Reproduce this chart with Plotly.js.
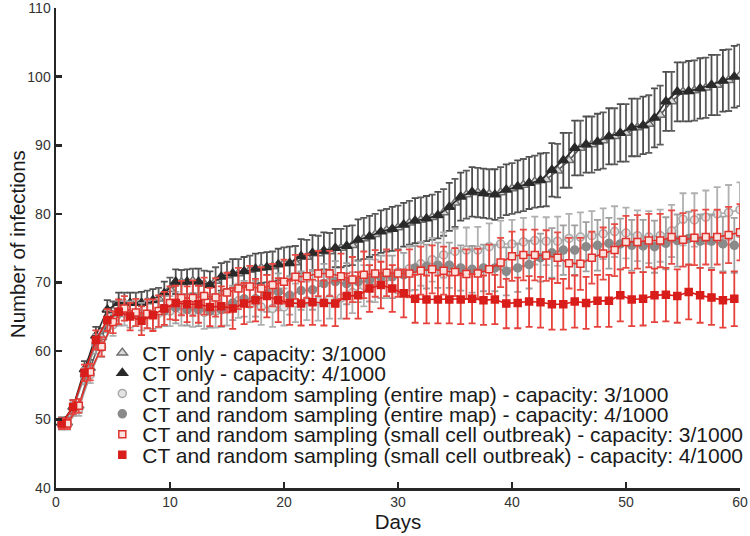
<!DOCTYPE html>
<html>
<head>
<meta charset="utf-8">
<script src="https://cdn.plot.ly/plotly-3.0.1.min.js"></script>
<style>html,body{margin:0;padding:0;background:#fff;}#chart{width:750px;height:536px;}</style>
</head>
<body>
<div id="chart"></div>
<script>
// Days: 3/1000 series sampled on whole days, 4/1000 series on half days
const days3 = [1,2,3,4,5,6,7,8,9,10,11,12,13,14,15,16,17,18,19,20,21,22,23,24,25,26,27,28,29,30,31,32,33,34,35,36,37,38,39,40,41,42,43,44,45,46,47,48,49,50,51,52,53,54,55,56,57,58,59,60];
const days4 = [0.5,1.5,2.5,3.5,4.5,5.5,6.5,7.5,8.5,9.5,10.5,11.5,12.5,13.5,14.5,15.5,16.5,17.5,18.5,19.5,20.5,21.5,22.5,23.5,24.5,25.5,26.5,27.5,28.5,29.5,30.5,31.5,32.5,33.5,34.5,35.5,36.5,37.5,38.5,39.5,40.5,41.5,42.5,43.5,44.5,45.5,46.5,47.5,48.5,49.5,50.5,51.5,52.5,53.5,54.5,55.5,56.5,57.5,58.5,59.5];

// CT only
const ctOnly3 = [49.5,52.0,57.5,62.0,65.8,67.0,67.0,67.2,67.6,69.0,70.0,70.2,69.8,70.2,71.0,71.3,71.8,72.1,72.3,72.8,72.9,73.7,74.2,74.5,75.0,75.4,76.4,77.0,77.6,78.0,78.7,79.1,79.5,80.2,81.6,82.8,83.1,82.9,83.1,83.7,84.2,84.7,85.0,86.3,87.8,89.6,90.1,90.7,91.3,91.8,92.6,93.1,94.4,96.4,97.8,98.0,98.4,98.8,99.5,100.2];
const ctOnly4 = [49.5,51.8,57.3,62.2,66.0,67.0,67.0,67.0,67.4,68.4,70.1,70.1,70.1,69.6,70.8,71.3,71.6,72.0,72.2,72.6,72.8,73.8,74.3,74.6,75.0,75.3,76.2,76.7,77.4,77.8,78.4,79.0,79.3,79.8,81.0,82.5,83.2,83.0,82.8,83.5,84.0,84.5,84.9,86.4,87.8,89.6,90.1,90.5,91.3,91.8,92.6,92.9,94.0,96.4,97.8,97.9,98.3,98.8,99.4,100.0];
const ctOnly3Err = [0.8,1.0,1.2,1.3,1.4,1.5,1.5,1.6,1.6,1.7,1.8,1.8,1.9,2.0,2.0,2.1,2.1,2.2,2.2,2.3,2.4,2.5,2.6,2.7,2.8,2.9,3.0,3.0,3.1,3.2,3.2,3.3,3.3,3.4,3.5,3.5,3.6,3.6,3.7,3.7,3.8,3.8,3.9,3.9,4.0,4.0,4.1,4.1,4.1,4.2,4.2,4.2,4.3,4.3,4.3,4.4,4.4,4.4,4.5,4.5];
const ctOnly4Err = [0.8,1.0,1.2,1.3,1.4,1.5,1.5,1.6,1.6,1.7,1.8,1.8,1.9,2.0,2.0,2.1,2.1,2.2,2.2,2.3,2.4,2.5,2.6,2.7,2.8,2.9,3.0,3.0,3.1,3.2,3.2,3.3,3.3,3.4,3.5,3.5,3.6,3.6,3.7,3.7,3.8,3.8,3.9,3.9,4.0,4.0,4.1,4.1,4.1,4.2,4.2,4.2,4.3,4.3,4.3,4.4,4.4,4.4,4.5,4.5];

// CT and random sampling (entire map)
const map3 = [49.3,51.5,56.5,60.5,63.8,65.5,65.5,65.3,65.5,65.8,66.0,65.8,65.6,65.8,66.2,67.3,66.8,66.4,66.2,66.4,67.0,67.3,67.3,67.6,67.7,68.5,69.5,70.2,70.8,71.5,72.0,72.7,73.3,74.0,74.5,74.7,74.7,75.2,75.6,75.6,75.9,76.1,76.0,76.0,76.4,76.6,76.8,77.1,77.4,77.2,76.8,76.6,76.8,77.5,79.2,79.1,79.5,80.0,80.2,80.6];
const map4 = [49.3,51.5,56.3,61.0,64.3,65.5,65.3,65.0,65.3,65.8,66.3,66.0,66.0,65.8,66.0,67.0,67.6,67.6,68.4,68.6,68.1,68.8,68.9,69.8,70.1,69.8,70.1,70.3,70.8,70.8,71.1,72.1,72.3,72.5,72.5,72.1,71.9,72.1,72.1,71.6,72.1,72.6,73.6,74.3,74.7,74.7,75.2,75.4,75.7,75.6,75.4,75.3,75.2,75.7,76.1,76.4,76.0,76.0,75.6,75.4];
const map3Err = [0.8,1.0,1.2,1.4,1.6,1.8,1.9,2.0,2.1,2.2,2.3,2.3,2.4,2.4,2.5,2.5,2.6,2.6,2.7,2.7,2.8,2.8,2.9,2.9,3.0,3.0,3.0,3.1,3.1,3.1,3.2,3.2,3.2,3.3,3.3,3.3,3.4,3.4,3.4,3.5,3.5,3.5,3.5,3.6,3.6,3.6,3.6,3.7,3.7,3.7,3.7,3.8,3.8,3.8,3.8,3.9,3.9,3.9,4.0,4.0];
const map4Err = [0.8,1.0,1.2,1.4,1.6,1.8,1.9,2.0,2.1,2.2,2.3,2.3,2.4,2.4,2.5,2.5,2.6,2.6,2.7,2.7,2.8,2.8,2.9,2.9,3.0,3.0,3.0,3.1,3.1,3.1,3.2,3.2,3.2,3.3,3.3,3.3,3.4,3.4,3.4,3.5,3.5,3.5,3.5,3.6,3.6,3.6,3.6,3.7,3.7,3.7,3.7,3.8,3.8,3.8,3.8,3.9,3.9,3.9,4.0,4.0];

// CT and random sampling (small cell outbreak)
const cell3 = [49.4,52.0,56.9,60.6,64.2,66.2,65.6,65.4,65.8,67.0,67.7,67.7,68.0,67.8,68.5,69.1,69.4,69.1,69.6,70.1,70.8,70.9,71.3,71.3,70.9,70.4,71.1,71.3,71.4,71.3,71.3,71.7,71.9,71.7,71.5,71.2,71.3,71.9,72.9,73.8,74.0,74.0,73.9,73.6,72.8,72.7,73.6,74.2,74.7,75.9,75.9,76.1,76.1,76.6,76.2,76.5,76.6,76.6,76.9,77.3];
const cell4 = [49.4,51.8,56.8,61.6,64.5,65.7,65.0,64.4,65.2,66.2,67.0,66.8,66.8,66.4,66.5,66.2,66.9,67.4,68.0,67.4,67.0,66.9,67.1,67.0,66.9,68.0,68.1,69.1,69.6,69.1,68.4,67.6,67.5,67.5,67.5,67.5,67.6,67.4,67.5,66.9,67.0,67.2,67.1,66.8,66.8,67.2,67.0,67.3,67.3,68.1,67.5,67.6,68.1,68.2,68.0,68.6,68.1,67.8,67.4,67.6];
const cell3Err = [0.8,1.0,1.2,1.4,1.6,1.8,2.0,2.1,2.3,2.4,2.5,2.6,2.7,2.8,2.9,3.0,3.0,3.1,3.1,3.2,3.2,3.2,3.3,3.3,3.3,3.3,3.4,3.4,3.4,3.4,3.5,3.5,3.5,3.5,3.5,3.6,3.6,3.6,3.6,3.6,3.7,3.7,3.7,3.7,3.7,3.8,3.8,3.8,3.8,3.8,3.9,3.9,3.9,3.9,3.9,4.0,4.0,4.0,4.1,4.1];
const cell4Err = [0.8,1.0,1.2,1.4,1.6,1.8,2.0,2.1,2.3,2.4,2.5,2.6,2.7,2.8,2.9,3.0,3.0,3.1,3.1,3.2,3.2,3.2,3.3,3.3,3.3,3.3,3.4,3.4,3.4,3.4,3.5,3.5,3.5,3.5,3.5,3.6,3.6,3.6,3.6,3.6,3.7,3.7,3.7,3.7,3.7,3.8,3.8,3.8,3.8,3.8,3.9,3.9,3.9,3.9,3.9,4.0,4.0,4.0,4.0,4.0];

const seriesNames = [
  "CT only - capacity: 3/1000",
  "CT only - capacity: 4/1000",
  "CT and random sampling (entire map) - capacity: 3/1000",
  "CT and random sampling (entire map) - capacity: 4/1000",
  "CT and random sampling (small cell outbreak) - capacity: 3/1000",
  "CT and random sampling (small cell outbreak) - capacity: 4/1000"
];
const xTicks = [0,10,20,30,40,50,60];
const yTicks = [40,50,60,70,80,90,100,110];
const xTitle = 'Days';
const yTitle = 'Number of infections';

const FONT = "Liberation Sans, Arial, Helvetica, sans-serif";

const styles = [
  {x: days3, y: ctOnly3, e: ctOnly3Err, sym: 'triangle-up', size: 9, fill: '#d9d9d9', edge: '#6e6e6e', line: '#5a5a5a', err: '#5c5c5c'},
  {x: days4, y: ctOnly4, e: ctOnly4Err, sym: 'triangle-up', size: 9, fill: '#2a2a2a', edge: '#2a2a2a', line: '#2a2a2a', err: '#4f4f4f'},
  {x: days3, y: map3, e: map3Err, sym: 'circle', size: 8, fill: '#e4e4e4', edge: '#a8a8a8', line: '#a8a8a8', err: '#b0b0b0'},
  {x: days4, y: map4, e: map4Err, sym: 'circle', size: 8, fill: '#8a8a8a', edge: '#8a8a8a', line: '#8a8a8a', err: '#a0a0a0'},
  {x: days3, y: cell3, e: cell3Err, sym: 'square', size: 7, fill: '#fbe3e0', edge: '#e0312c', line: '#e0312c', err: '#e84a44'},
  {x: days4, y: cell4, e: cell4Err, sym: 'square', size: 7, fill: '#d81d1a', edge: '#d81d1a', line: '#d81d1a', err: '#e6413b'}
];

const legendIds = ['legend','legend2','legend3','legend4','legend5','legend6'];
const traces = [];
styles.forEach((s, i) => {
  traces.push({
    type: 'scatter', mode: 'lines', x: s.x, y: s.y, showlegend: false, hoverinfo: 'skip',
    line: {color: s.line, width: 1.6}
  });
  traces.push({
    type: 'scatter', mode: 'markers', x: s.x, y: s.y, name: seriesNames[i], legend: legendIds[i],
    marker: {symbol: s.sym, size: s.size, color: s.fill, line: {color: s.edge, width: 1.5}},
    error_y: {type: 'data', array: s.e, visible: true, color: s.err, thickness: 1.8, width: 3.5}
  });
});

const rowY = [353, 373.4, 393.8, 414.2, 434.6, 455];
const layout = {
  width: 750, height: 536,
  margin: {l: 56, r: 10, t: 8, b: 48, autoexpand: false},
  paper_bgcolor: '#ffffff', plot_bgcolor: '#ffffff',
  font: {family: FONT, color: '#262626'},
  showlegend: true,
  xaxis: {
    range: [0, 60], tickvals: xTicks, ticks: 'inside', ticklen: 6, tickwidth: 2.5, tickcolor: '#262626',
    showline: true, linewidth: 2.5, linecolor: '#262626', showgrid: false, zeroline: false,
    ticklabeloverflow: 'allow',
    tickfont: {size: 14, color: '#333333', family: FONT},
    title: {text: xTitle, font: {size: 20.5, color: '#1a1a1a', family: FONT}, standoff: 3}
  },
  yaxis: {
    range: [39.99, 110.03], tickvals: yTicks, ticks: 'inside', ticklen: 6, tickwidth: 2.5, tickcolor: '#262626',
    showline: true, linewidth: 2.5, linecolor: '#262626', showgrid: false, zeroline: false,
    ticklabeloverflow: 'allow',
    tickfont: {size: 14, color: '#333333', family: FONT}
  },
  annotations: [{
    text: yTitle, xref: 'paper', yref: 'paper', x: -0.057, y: 0.508, xanchor: 'center', yanchor: 'middle',
    textangle: -90, showarrow: false, font: {size: 20.5, color: '#1a1a1a', family: FONT}
  }]
};
legendIds.forEach((id, i) => {
  layout[id] = {
    x: 0.0677, xanchor: 'left', y: (488 - rowY[i]) / 480, yanchor: 'middle',
    bgcolor: 'rgba(0,0,0,0)', borderwidth: 0,
    font: {family: FONT, size: 21, color: '#1a1a1a'}
  };
});

Plotly.newPlot('chart', traces, layout, {staticPlot: true, displayModeBar: false});
</script>
</body>
</html>
